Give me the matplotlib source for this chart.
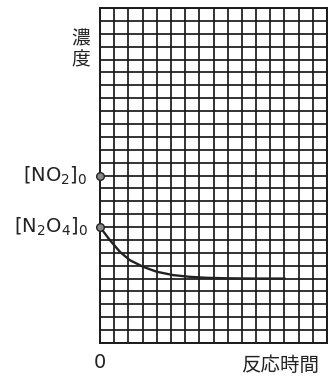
import matplotlib
matplotlib.use("Agg")
import matplotlib.pyplot as plt
import numpy as np

plt.rcParams['font.family'] = ['Noto Sans CJK JP', 'DejaVu Sans']

# data (grid units)
n_cols = 16
n_rows = 26
no2_0 = 13
n2o4_0 = 9
curve_t = [0, 0.7, 1.4, 2.1, 3.05, 4.0, 5.15, 6.3, 7.5, 9.0, 11.0, 13.0]
curve_c = [9.0, 7.98, 7.08, 6.43, 5.91, 5.53, 5.27, 5.14, 5.06, 5.02, 5.0, 5.0]
y_label = "濃\n度"
x_label = "反応時間"
origin_label = "0"
marker_labels = [r"$[\mathrm{NO_2}]_0$", r"$[\mathrm{N_2O_4}]_0$"]

fig = plt.figure(figsize=(3.29, 3.76), dpi=100)
ax = fig.add_axes([100/329, (376-343)/376, 227/329, 335/376])
ax.set_xlim(0, n_cols)
ax.set_ylim(0, n_rows)
ax.set_xticks(np.arange(0, n_cols + 1))
ax.set_yticks(np.arange(0, n_rows + 1))
ax.tick_params(length=0, labelbottom=False, labelleft=False)
ax.grid(True, color='#1a1a1a', linewidth=1.25)
for s in ax.spines.values():
    s.set_color('#1a1a1a')
    s.set_linewidth(1.4)

ax.plot(curve_t, curve_c, color='#222222', linewidth=1.7, zorder=3, clip_on=False)
ax.plot([0, 0], [no2_0, n2o4_0], linestyle='none', marker='o', markersize=5.5,
        markerfacecolor='#888888', markeredgecolor='#222222', markeredgewidth=1.0,
        zorder=4, clip_on=False)

ax.text(-0.85, no2_0, marker_labels[0], ha='right', va='center', fontsize=14,
        family='DejaVu Sans', color='#222222')
ax.text(-0.85, n2o4_0, marker_labels[1], ha='right', va='center', fontsize=14,
        family='DejaVu Sans', color='#222222')
ax.text(-1.35, 22.75, y_label, ha='center', va='center', fontsize=13.5,
        linespacing=1.0, color='#222222')
ax.text(0, -1.5, origin_label, ha='center', va='center', fontsize=14,
        family='DejaVu Sans', color='#222222')
ax.text(12.7, -1.75, x_label, ha='center', va='center', fontsize=14, color='#222222')

fig.savefig("out.png", dpi=100)
